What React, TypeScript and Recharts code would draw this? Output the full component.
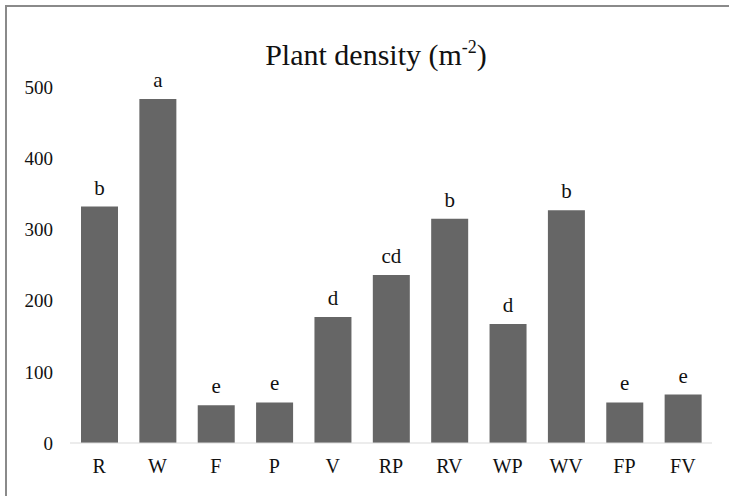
import { BarChart, Bar, XAxis, YAxis, LabelList } from 'recharts';

const categories = ['R', 'W', 'F', 'P', 'V', 'RP', 'RV', 'WP', 'WV', 'FP', 'FV'];
const density = [332, 483, 53, 57, 177, 236, 315, 167, 327, 57, 68];
const groups = ['b', 'a', 'e', 'e', 'd', 'cd', 'b', 'd', 'b', 'e', 'e'];
const yTicks = [0, 100, 200, 300, 400, 500];

const data = categories.map((name, i) => ({ name, density: density[i], group: groups[i] }));

const serif = '"Liberation Serif", "Times New Roman", serif';

export default function App() {
  return (
    <div style={{ position: 'absolute', left: 0, top: 0, width: 729, height: 496, background: '#fff', fontFamily: serif, overflow: 'hidden' }}>
      <div style={{ position: 'absolute', left: 5, top: 5, right: -10, bottom: -10, borderLeft: '2px solid #8a8a8a', borderTop: '2px solid #8a8a8a' }} />
      <div style={{ position: 'absolute', left: 0, width: 752, top: 39, textAlign: 'center', fontSize: 30, lineHeight: '32px', color: '#111' }}>
        Plant density (m<span style={{ fontSize: 18, position: 'relative', top: -12 }}>-2</span>)
      </div>
      <BarChart
        width={729}
        height={496}
        data={data}
        margin={{ top: 87, right: 17, left: 0, bottom: 0 }}
        style={{ position: 'absolute', left: 0, top: 0 }}
      >
        <XAxis
          dataKey="name"
          axisLine={{ stroke: '#d9d9d9' }}
          tickLine={false}
          tickSize={0}
          tickMargin={16}
          tick={{ fill: '#111', fontSize: 20, fontFamily: serif }}
          height={53}
        />
        <YAxis
          domain={[0, 500]}
          ticks={yTicks}
          axisLine={false}
          tickLine={false}
          tickSize={0}
          tickMargin={17}
          width={70}
          tick={{ fill: '#111', fontSize: 19, fontFamily: serif }}
        />
        <Bar dataKey="density" fill="#666666" barSize={37} isAnimationActive={false}>
          <LabelList dataKey="group" position="top" offset={12} fill="#111" fontSize={21} fontFamily={serif} />
        </Bar>
      </BarChart>
    </div>
  );
}
